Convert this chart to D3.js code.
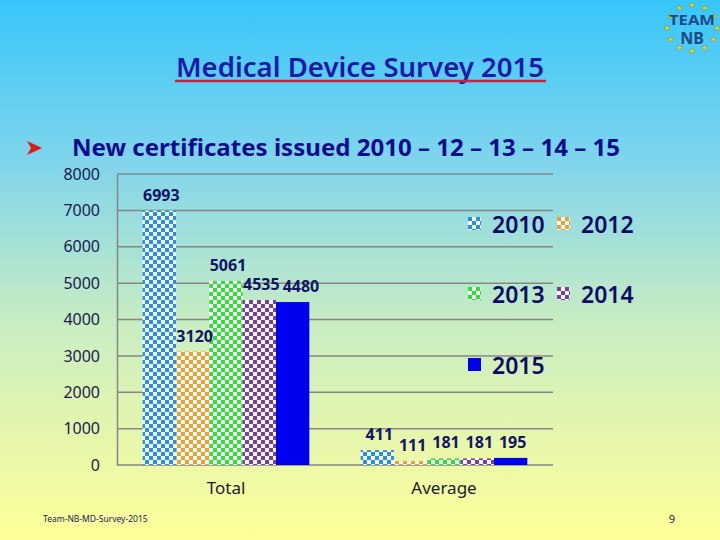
<!DOCTYPE html>
<html>
<head>
<meta charset="utf-8">
<script src="https://cdn.jsdelivr.net/npm/d3@7"></script>
<style>
  html, body { margin: 0; padding: 0; }
  body { width: 720px; height: 540px; overflow: hidden; }
  svg { display: block; font-family: "Noto Sans", "Open Sans", sans-serif; }
</style>
</head>
<body>
<div id="chart"></div>
<script>
// categories and series
const categories = ["Total", "Average"];
const years = ["2010", "2012", "2013", "2014", "2015"];
const totalValues = [6993, 3120, 5061, 4535, 4480];
const averageValues = [411, 111, 181, 181, 195];
const yTicks = [0, 1000, 2000, 3000, 4000, 5000, 6000, 7000, 8000];

const width = 720;
const height = 540;
const navy = "#141466";

const colors = {
  "2010": "#2b8fe0",
  "2012": "#f0a02c",
  "2013": "#2fe02f",
  "2014": "#7a3f9c",
  "2015": "#0000f0"
};

const rows = categories.map((c, i) => ({
  cat: c,
  vals: years.map((y, j) => ({ year: y, value: (i === 0 ? totalValues : averageValues)[j] }))
}));

const svg = d3.select("#chart").append("svg")
  .attr("width", width)
  .attr("height", height);

const defs = svg.append("defs");

// background gradient
const grad = defs.append("linearGradient")
  .attr("id", "bg")
  .attr("x1", 0).attr("y1", 0).attr("x2", 0).attr("y2", 1);
grad.append("stop").attr("offset", "0%").attr("stop-color", "#37c6fa");
grad.append("stop").attr("offset", "30%").attr("stop-color", "#80d5ec");
grad.append("stop").attr("offset", "60%").attr("stop-color", "#c9edc2");
grad.append("stop").attr("offset", "100%").attr("stop-color", "#ffff98");

// checker patterns
years.slice(0, 4).forEach(y => {
  const p = defs.append("pattern")
    .attr("id", `chk-${y}`)
    .attr("patternUnits", "userSpaceOnUse")
    .attr("width", 8).attr("height", 8);
  p.append("rect").attr("width", 8).attr("height", 8).attr("fill", "#f4fbff");
  p.append("rect").attr("width", 4).attr("height", 4).attr("fill", colors[y]);
  p.append("rect").attr("x", 4).attr("y", 4).attr("width", 4).attr("height", 4).attr("fill", colors[y]);
});
const fillFor = y => y === "2015" ? colors[y] : `url(#chk-${y})`;

svg.append("rect").attr("width", width).attr("height", height).attr("fill", "url(#bg)");

// title
svg.append("text")
  .attr("x", 360).attr("y", 77)
  .attr("text-anchor", "middle")
  .attr("font-size", 27)
  .attr("font-weight", 600)
  .attr("fill", "#1a1aa6")
  .attr("textLength", 368)
  .attr("lengthAdjust", "spacingAndGlyphs")
  .text("Medical Device Survey 2015");
svg.append("line")
  .attr("x1", 175).attr("x2", 546)
  .attr("y1", 81).attr("y2", 81)
  .attr("stroke", "#d0203c").attr("stroke-width", 2.5);

// bullet + subtitle
svg.append("path")
  .attr("d", "M27,141 L42,148 L27,155 L31,148 Z")
  .attr("fill", "#e01818");
svg.append("text")
  .attr("x", 72).attr("y", 156)
  .attr("font-size", 23)
  .attr("font-weight", 700)
  .attr("fill", "#0c0c8c")
  .attr("textLength", 548)
  .attr("lengthAdjust", "spacingAndGlyphs")
  .text("New certificates issued 2010 \u2013 12 \u2013 13 \u2013 14 \u2013 15");

// logo
const logo = svg.append("g").attr("transform", "translate(692,28)");
d3.range(12).forEach(i => {
  const a = i / 12 * 2 * Math.PI;
  logo.append("path")
    .attr("d", d3.symbol(d3.symbolStar, 12)())
    .attr("transform", `translate(${25 * Math.sin(a)},${-23 * Math.cos(a)})`)
    .attr("fill", "#f2e21a")
    .attr("stroke", "#8a8a20").attr("stroke-width", 0.4);
});
logo.append("text").attr("y", -3).attr("text-anchor", "middle")
  .attr("font-size", 15).attr("font-weight", 700).attr("fill", "#1f4a86")
  .attr("textLength", 46).attr("lengthAdjust", "spacingAndGlyphs")
  .text("TEAM");
logo.append("text").attr("y", 16).attr("text-anchor", "middle")
  .attr("font-size", 16).attr("font-weight", 700).attr("fill", "#1f4a86")
  .text("NB");

// scales
const x0 = d3.scaleBand().domain(categories).range([117, 553]);
const x1 = d3.scaleBand().domain(years).range([0, x0.bandwidth()]).paddingOuter(0.77);
const y = d3.scaleLinear().domain([0, 8000]).range([465, 174]);

// gridlines
svg.append("g")
  .selectAll("line")
  .data(yTicks)
  .join("line")
  .attr("x1", 117).attr("x2", 553)
  .attr("y1", d => y(d)).attr("y2", d => y(d))
  .attr("stroke", "#868686").attr("stroke-width", 1.5);

// y axis
const yAxis = svg.append("g")
  .attr("transform", "translate(117,0)")
  .call(d3.axisLeft(y).tickValues(yTicks).tickFormat(d3.format("d")).tickSize(0).tickPadding(17));
yAxis.select(".domain").attr("stroke", "#868686").attr("stroke-width", 1.5);
yAxis.selectAll("text")
  .attr("font-size", 16)
  .attr("font-family", "'Noto Sans', sans-serif")
  .attr("fill", "#1a1a50");

// x labels
const xAxis = svg.append("g")
  .attr("transform", "translate(0,465)")
  .call(d3.axisBottom(x0).tickSize(0).tickPadding(17));
xAxis.select(".domain").remove();
xAxis.selectAll("text")
  .attr("font-size", 17)
  .attr("font-family", "'Noto Sans', sans-serif")
  .attr("fill", "#1a1a30");

// bars
const groups = svg.append("g")
  .selectAll("g")
  .data(rows)
  .join("g")
  .attr("transform", d => `translate(${x0(d.cat)},0)`);

groups.selectAll("rect")
  .data(d => d.vals)
  .join("rect")
  .attr("x", d => x1(d.year))
  .attr("y", d => y(d.value))
  .attr("width", x1.bandwidth())
  .attr("height", d => y(0) - y(d.value))
  .attr("fill", d => fillFor(d.year));

groups.each(function () {
  const labels = d3.select(this).selectAll("text.val")
    .data(d => d.vals)
    .join("text")
    .attr("class", "val")
    .attr("x", d => x1(d.year) + x1.bandwidth() / 2 + 2)
    .attr("y", d => y(d.value) - 10)
    .attr("text-anchor", "middle")
    .attr("font-size", 16)
    .attr("font-weight", 700)
    .attr("fill", navy)
    .text(d => d.value);

  // nudge colliding labels to the right, like the original
  let prev = null;
  labels.each(function () {
    const t = d3.select(this);
    const w = this.getComputedTextLength();
    let cx = +t.attr("x");
    const cy = +t.attr("y");
    if (prev && Math.abs(cy - prev.y) < 14 && cx - w / 2 < prev.right + 3) {
      const shift = prev.right + 3 - (cx - w / 2);
      cx += shift;
      t.attr("x", cx);
    }
    prev = { right: cx + w / 2, y: cy };
  });
});

// legend
const legendPos = [[468, 225], [557, 225], [468, 295], [557, 295], [468, 366]];
const legend = svg.append("g")
  .selectAll("g")
  .data(years)
  .join("g")
  .attr("transform", (d, i) => `translate(${legendPos[i][0]},${legendPos[i][1]})`);
legend.append("rect")
  .attr("x", 0).attr("y", -8)
  .attr("width", 13).attr("height", 13)
  .attr("fill", d => fillFor(d));
legend.append("text")
  .attr("x", 24).attr("y", 8)
  .attr("font-size", 23)
  .attr("font-weight", 600)
  .attr("fill", "#0c0c66")
  .text(d => d);

// footer
svg.append("text")
  .attr("x", 43).attr("y", 522)
  .attr("font-size", 8.5)
  .attr("fill", "#1a1a60")
  .text("Team-NB-MD-Survey-2015");
svg.append("text")
  .attr("x", 672).attr("y", 523)
  .attr("font-size", 11)
  .attr("text-anchor", "middle")
  .attr("fill", "#1a1a60")
  .text("9");
</script>
</body>
</html>
